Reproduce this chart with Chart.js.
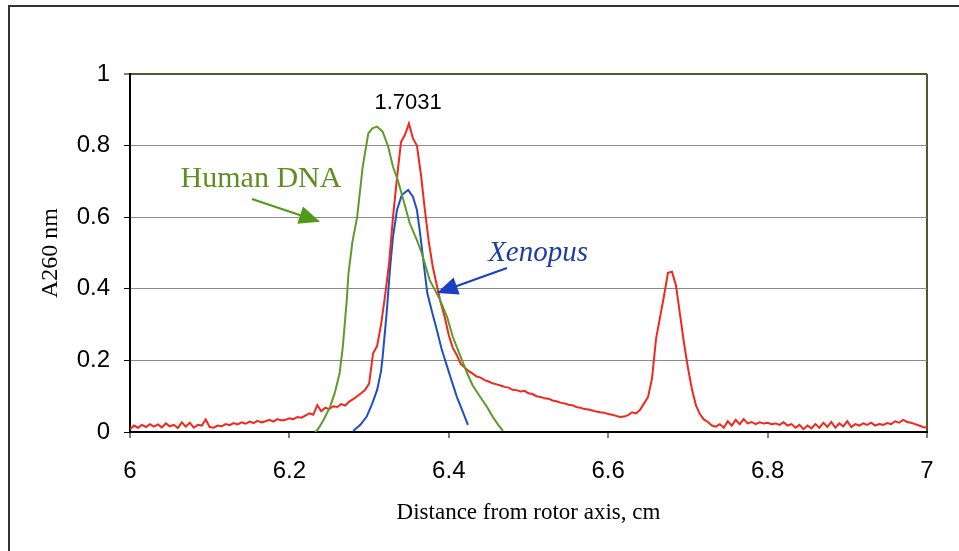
<!DOCTYPE html>
<html>
<head>
<meta charset="utf-8">
<script src="https://cdn.jsdelivr.net/npm/chart.js@4"></script>
<style>
  html, body { margin: 0; padding: 0; background: #fff; }
  #wrap { position: relative; width: 959px; height: 551px; overflow: hidden; }
  #frame { position: absolute; left: 8px; top: 5px; right: -10px; bottom: -10px;
           border-left: 2px solid #333; border-top: 2px solid #333; }
  #chart { position: absolute; left: 0; top: 0; }
</style>
</head>
<body>
<div id="wrap">
  <div id="frame"></div>
  <canvas id="chart" width="959" height="551"></canvas>
</div>
<script>
// red trace (full scan)
const redX = [
  6.000, 6.005, 6.010, 6.015, 6.020, 6.025, 6.030, 6.035, 6.040, 6.045,
  6.050, 6.055, 6.060, 6.065, 6.070, 6.075, 6.080, 6.085, 6.090, 6.095,
  6.100, 6.105, 6.110, 6.115, 6.120, 6.125, 6.130, 6.135, 6.140, 6.145,
  6.150, 6.155, 6.160, 6.165, 6.170, 6.175, 6.180, 6.185, 6.190, 6.195,
  6.200, 6.205, 6.210, 6.215, 6.220, 6.225, 6.230, 6.235, 6.240, 6.245,
  6.250, 6.255, 6.260, 6.265, 6.270, 6.275, 6.280, 6.285, 6.290, 6.295,
  6.300, 6.305, 6.310, 6.315, 6.320, 6.325, 6.330, 6.335, 6.340, 6.345,
  6.350, 6.355, 6.360, 6.365, 6.370, 6.375, 6.380, 6.385, 6.390, 6.395,
  6.400, 6.405, 6.410, 6.415, 6.420, 6.425, 6.430, 6.435, 6.440, 6.445,
  6.450, 6.455, 6.460, 6.465, 6.470, 6.475, 6.480, 6.485, 6.490, 6.495,
  6.500, 6.505, 6.510, 6.515, 6.520, 6.525, 6.530, 6.535, 6.540, 6.545,
  6.550, 6.555, 6.560, 6.565, 6.570, 6.575, 6.580, 6.585, 6.590, 6.595,
  6.600, 6.605, 6.610, 6.615, 6.620, 6.625, 6.630, 6.635, 6.640, 6.645,
  6.650, 6.655, 6.660, 6.665, 6.670, 6.675, 6.680, 6.685, 6.690, 6.695,
  6.700, 6.705, 6.710, 6.715, 6.720, 6.725, 6.730, 6.735, 6.740, 6.745,
  6.750, 6.755, 6.760, 6.765, 6.770, 6.775, 6.780, 6.785, 6.790, 6.795,
  6.800, 6.805, 6.810, 6.815, 6.820, 6.825, 6.830, 6.835, 6.840, 6.845,
  6.850, 6.855, 6.860, 6.865, 6.870, 6.875, 6.880, 6.885, 6.890, 6.895,
  6.900, 6.905, 6.910, 6.915, 6.920, 6.925, 6.930, 6.935, 6.940, 6.945,
  6.950, 6.955, 6.960, 6.965, 6.970, 6.975, 6.980, 6.985, 6.990, 6.995,
  7.000
];
const redY = [
  0.008, 0.018, 0.012, 0.020, 0.014, 0.022, 0.015, 0.021, 0.013, 0.024,
  0.016, 0.020, 0.011, 0.027, 0.015, 0.026, 0.012, 0.020, 0.018, 0.035,
  0.014, 0.012, 0.018, 0.016, 0.022, 0.019, 0.025, 0.021, 0.027, 0.023,
  0.029, 0.025, 0.031, 0.027, 0.030, 0.034, 0.029, 0.036, 0.032, 0.034,
  0.038, 0.036, 0.042, 0.040, 0.046, 0.052, 0.048, 0.075, 0.058, 0.068,
  0.064, 0.072, 0.070, 0.078, 0.074, 0.085, 0.092, 0.100, 0.108, 0.118,
  0.135, 0.220, 0.240, 0.300, 0.380, 0.470, 0.600, 0.710, 0.810, 0.830,
  0.862, 0.820, 0.800, 0.720, 0.620, 0.530, 0.460, 0.410, 0.360, 0.320,
  0.270, 0.235, 0.215, 0.190, 0.180, 0.170, 0.163, 0.155, 0.152, 0.145,
  0.141, 0.136, 0.133, 0.130, 0.126, 0.124, 0.118, 0.117, 0.113, 0.115,
  0.108, 0.106, 0.100, 0.098, 0.094, 0.093, 0.088, 0.086, 0.082, 0.080,
  0.076, 0.075, 0.070, 0.068, 0.064, 0.063, 0.060, 0.057, 0.055, 0.054,
  0.050, 0.048, 0.045, 0.042, 0.043, 0.047, 0.055, 0.052, 0.062, 0.080,
  0.098, 0.150, 0.260, 0.320, 0.380, 0.445, 0.448, 0.410, 0.330, 0.250,
  0.180, 0.120, 0.075, 0.050, 0.035, 0.028, 0.018, 0.015, 0.022, 0.012,
  0.030, 0.018, 0.034, 0.022, 0.036, 0.024, 0.028, 0.022, 0.027, 0.024,
  0.026, 0.022, 0.024, 0.020, 0.027, 0.018, 0.022, 0.012, 0.020, 0.008,
  0.018, 0.010, 0.022, 0.012, 0.026, 0.014, 0.028, 0.012, 0.024, 0.016,
  0.030, 0.014, 0.022, 0.018, 0.024, 0.020, 0.026, 0.018, 0.022, 0.020,
  0.025, 0.022, 0.030, 0.026, 0.034, 0.028, 0.026, 0.022, 0.018, 0.014,
  0.012
];

// Human DNA (green)
const humanX = [6.232, 6.235, 6.242, 6.251, 6.257, 6.263, 6.267, 6.272, 6.274, 6.279,
  6.285, 6.292, 6.299, 6.304, 6.310, 6.317, 6.324, 6.330, 6.336, 6.343,
  6.351, 6.360, 6.366, 6.376, 6.389, 6.398, 6.405, 6.414, 6.423, 6.430,
  6.439, 6.448, 6.455, 6.462, 6.468];
const humanY = [0.000, 0.005, 0.030, 0.070, 0.110, 0.164, 0.238, 0.369, 0.440, 0.530,
  0.600, 0.741, 0.834, 0.848, 0.853, 0.839, 0.797, 0.741, 0.704, 0.648,
  0.583, 0.536, 0.500, 0.425, 0.369, 0.320, 0.266, 0.215, 0.164, 0.130,
  0.099, 0.070, 0.043, 0.020, 0.003];

// Xenopus (blue)
const xenX = [6.280, 6.289, 6.297, 6.304, 6.310, 6.315, 6.317, 6.322, 6.326, 6.330,
  6.335, 6.341, 6.349, 6.355, 6.360, 6.364, 6.368, 6.373, 6.379, 6.385,
  6.391, 6.398, 6.404, 6.410, 6.417, 6.424];
const xenY = [0.003, 0.020, 0.043, 0.080, 0.117, 0.170, 0.210, 0.332, 0.450, 0.546,
  0.620, 0.662, 0.676, 0.657, 0.620, 0.555, 0.480, 0.388, 0.335, 0.285,
  0.232, 0.182, 0.140, 0.099, 0.060, 0.020];

const xTicks = [6, 6.2, 6.4, 6.6, 6.8, 7];
const yTicks = [0, 0.2, 0.4, 0.6, 0.8, 1];

// annotations, in data units
const peakLabel = { text: '1.7031', x: 6.349, y: 0.919 };
const humanLabel = { text: 'Human DNA', x: 6.1644, y: 0.707 };
const humanArrow = [6.153, 0.651, 6.2384, 0.587];
const xenLabel = { text: 'Xenopus', x: 6.512, y: 0.500 };
const xenArrow = [6.473, 0.458, 6.385, 0.388];

const RED = '#f0281e', GREEN = '#5e9c2a', BLUE = '#1f4fc4';
const OLIVE = '#4d5a2c';

const pts = (xs, ys) => xs.map((x, i) => ({ x, y: ys[i] }));

function arrow(c, x1, y1, x2, y2, color) {
  const a = Math.atan2(y2 - y1, x2 - x1), L = 21, W = 9;
  c.strokeStyle = color; c.fillStyle = color; c.lineWidth = 2;
  c.beginPath(); c.moveTo(x1, y1);
  c.lineTo(x2 - Math.cos(a) * L * 0.8, y2 - Math.sin(a) * L * 0.8); c.stroke();
  c.beginPath(); c.moveTo(x2, y2);
  c.lineTo(x2 - Math.cos(a) * L + Math.sin(a) * W, y2 - Math.sin(a) * L - Math.cos(a) * W);
  c.lineTo(x2 - Math.cos(a) * L - Math.sin(a) * W, y2 - Math.sin(a) * L + Math.cos(a) * W);
  c.closePath(); c.fill();
}

const notes = {
  id: 'notes',
  afterDatasetsDraw(chart) {
    const c = chart.ctx, xs = chart.scales.x, ys = chart.scales.y;
    const px = v => xs.getPixelForValue(v), py = v => ys.getPixelForValue(v);
    c.save();
    c.textAlign = 'center'; c.textBaseline = 'middle';
    c.fillStyle = '#000'; c.font = '22px "Liberation Sans", Arial, sans-serif';
    c.fillText(peakLabel.text, px(peakLabel.x), py(peakLabel.y));
    c.fillStyle = '#5f8f1f'; c.font = '30px "Liberation Serif", "Times New Roman", serif';
    c.fillText(humanLabel.text, px(humanLabel.x), py(humanLabel.y));
    c.fillStyle = '#1c3ca8'; c.font = 'italic 29px "Liberation Serif", "Times New Roman", serif';
    c.fillText(xenLabel.text, px(xenLabel.x), py(xenLabel.y));
    arrow(c, px(humanArrow[0]), py(humanArrow[1]), px(humanArrow[2]), py(humanArrow[3]), '#4f9a1c');
    arrow(c, px(xenArrow[0]), py(xenArrow[1]), px(xenArrow[2]), py(xenArrow[3]), '#1a3fc0');
    c.restore();
  }
};

const ctx = document.getElementById('chart').getContext('2d');
const fmt = v => String(+Number(v).toFixed(1));

new Chart(ctx, {
  type: 'scatter',
  data: {
    datasets: [
      { label: 'Human DNA', data: pts(humanX, humanY), borderColor: GREEN },
      { label: 'Sample', data: pts(redX, redY), borderColor: RED },
      { label: 'Xenopus', data: pts(xenX, xenY), borderColor: BLUE }
    ].map(d => Object.assign(d, { showLine: true, borderWidth: 2, pointRadius: 0, tension: 0, fill: false }))
  },
  options: {
    responsive: false,
    animation: false,
    layout: { padding: { left: 0, top: 74, right: 32, bottom: 0 } },
    plugins: { legend: { display: false }, tooltip: { enabled: false } },
    scales: {
      x: {
        type: 'linear', min: 6, max: 7,
        afterBuildTicks: s => { s.ticks = xTicks.map(v => ({ value: v })); },
        afterFit: s => { s.height = 119; },
        ticks: { color: '#000', padding: 19, maxRotation: 0, autoSkip: false,
                 font: { family: '"Liberation Sans", Arial, sans-serif', size: 24 }, callback: fmt },
        grid: {
          color: c => Math.abs(c.tick.value - 7) < 1e-6 ? OLIVE : 'rgba(0,0,0,0)',
          lineWidth: 2, tickColor: '#000', tickLength: 6, tickWidth: 1
        },
        border: { color: '#000', width: 2 },
        title: { display: true, text: 'Distance from rotor axis, cm', color: '#000',
                 font: { family: '"Liberation Serif", "Times New Roman", serif', size: 23 },
                 padding: { top: 0, bottom: 24 } }
      },
      y: {
        min: 0, max: 1,
        afterBuildTicks: s => { s.ticks = yTicks.map(v => ({ value: v })); },
        afterFit: s => { s.width = 130; },
        ticks: { color: '#000', padding: 14,
                 font: { family: '"Liberation Sans", Arial, sans-serif', size: 24 }, callback: fmt },
        grid: {
          color: c => c.tick.value === 1 ? OLIVE : (c.tick.value === 0 ? 'rgba(0,0,0,0)' : '#8a8a8a'),
          lineWidth: c => c.tick.value === 1 ? 2 : 1,
          tickColor: '#000', tickLength: 6, tickWidth: 1
        },
        border: { color: '#000', width: 2 },
        title: { display: true, text: 'A260 nm', color: '#000',
                 font: { family: '"Liberation Serif", "Times New Roman", serif', size: 24 },
                 padding: { top: 36, bottom: 0 } }
      }
    }
  },
  plugins: [notes]
});
</script>
</body>
</html>
